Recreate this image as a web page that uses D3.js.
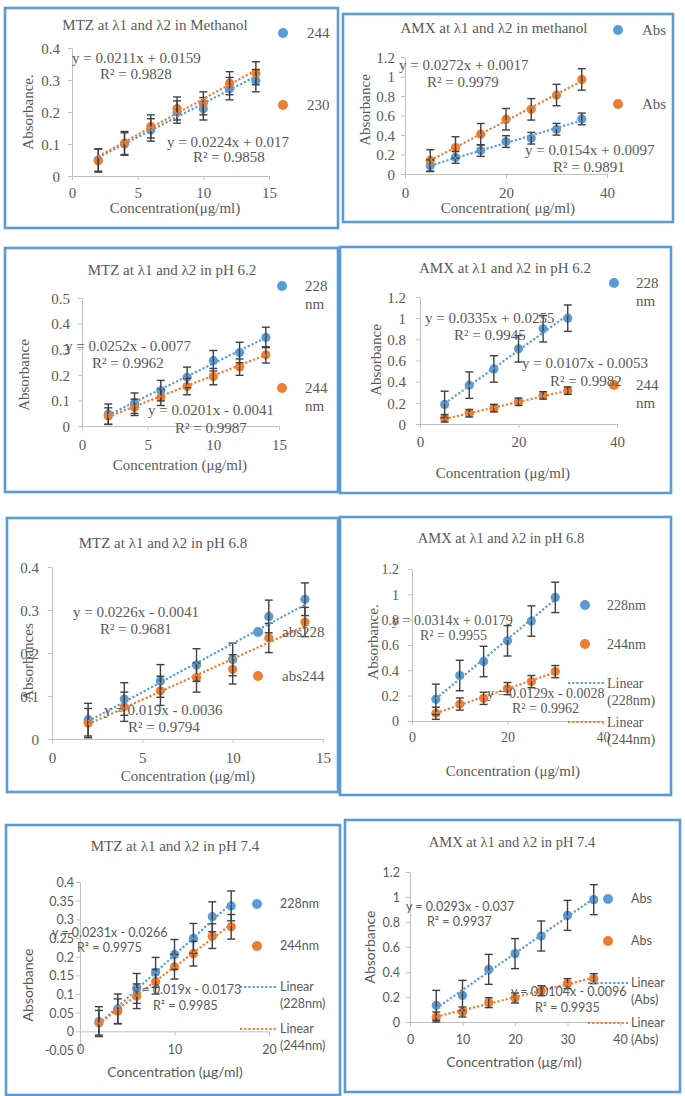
<!DOCTYPE html>
<html><head><meta charset="utf-8">
<script src="https://cdn.jsdelivr.net/npm/d3@7/dist/d3.min.js"></script>
<style>html,body{margin:0;padding:0;background:#fff;}svg{display:block;}</style>
</head><body>
<svg id="chart" width="685" height="1096"></svg>
<script>
// ---------------- DATA ----------------
// Panel 1: MTZ in methanol
const mtzMethConc = [2, 4, 6, 8, 10, 12, 14];
const mtzMeth244 = [0.05, 0.10, 0.144, 0.2, 0.21, 0.273, 0.298];
const mtzMeth230 = [0.048, 0.103, 0.155, 0.211, 0.227, 0.29, 0.321];
const mtzMethErr244 = [0.035, 0.035, 0.035, 0.035, 0.035, 0.035, 0.035];
const mtzMethErr230 = [0.036, 0.036, 0.036, 0.036, 0.036, 0.036, 0.036];
const mtzMethFit = [[0.0211, 0.0159, 0.9828], [0.0224, 0.017, 0.9858]];
// Panel 2: AMX in methanol
const amxMethConc = [5, 10, 15, 20, 25, 30, 35];
const amxMethAbsA = [0.085, 0.17, 0.241, 0.333, 0.367, 0.459, 0.565];
const amxMethAbsB = [0.139, 0.272, 0.408, 0.562, 0.663, 0.81, 0.97];
const amxMethErrA = [0.06, 0.06, 0.06, 0.06, 0.06, 0.06, 0.06];
const amxMethErrB = [0.11, 0.11, 0.11, 0.11, 0.11, 0.11, 0.11];
const amxMethFit = [[0.0154, 0.0097, 0.9891], [0.0272, 0.0017, 0.9979]];
// Panel 3: MTZ pH 6.2
const mtz62Conc = [2, 4, 6, 8, 10, 12, 14];
const mtz62_228 = [0.046, 0.089, 0.138, 0.19, 0.255, 0.287, 0.346];
const mtz62_244 = [0.039, 0.073, 0.112, 0.154, 0.193, 0.23, 0.278];
const mtz62Err228 = [0.04, 0.04, 0.04, 0.04, 0.04, 0.04, 0.04];
const mtz62Err244 = [0.032, 0.032, 0.032, 0.032, 0.032, 0.032, 0.032];
const mtz62Fit = [[0.0252, -0.0077, 0.9962], [0.0201, -0.0041, 0.9987]];
// Panel 4: AMX pH 6.2
const amx62Conc = [5, 10, 15, 20, 25, 30];
const amx62_228 = [0.185, 0.367, 0.52, 0.71, 0.9, 1.0];
const amx62_244 = [0.054, 0.102, 0.15, 0.21, 0.27, 0.315];
const amx62Err228 = [0.125, 0.125, 0.125, 0.125, 0.125, 0.125];
const amx62Err244 = [0.035, 0.035, 0.035, 0.035, 0.035, 0.035];
const amx62Fit = [[0.0335, 0.0255, 0.9945], [0.0107, -0.0053, 0.9982]];
// Panel 5: MTZ pH 6.8
const mtz68Conc = [2, 4, 6, 8, 10, 12, 14];
const mtz68_228 = [0.045, 0.093, 0.135, 0.172, 0.185, 0.285, 0.325];
const mtz68_244 = [0.037, 0.075, 0.112, 0.143, 0.162, 0.235, 0.272];
const mtz68Err228 = [0.038, 0.038, 0.038, 0.038, 0.038, 0.038, 0.038];
const mtz68Err244 = [0.034, 0.034, 0.034, 0.034, 0.034, 0.034, 0.034];
const mtz68Fit = [[0.0226, -0.0041, 0.9681], [0.019, -0.0036, 0.9794]];
// Panel 6: AMX pH 6.8
const amx68Conc = [5, 10, 15, 20, 25, 30];
const amx68_228 = [0.171, 0.359, 0.47, 0.633, 0.789, 0.976];
const amx68_244 = [0.061, 0.134, 0.179, 0.256, 0.311, 0.39];
const amx68Err228 = [0.12, 0.12, 0.12, 0.12, 0.12, 0.12];
const amx68Err244 = [0.048, 0.048, 0.048, 0.048, 0.048, 0.048];
const amx68Fit = [[0.0314, 0.0179, 0.9955], [0.0129, -0.0028, 0.9962]];
// Panel 7: MTZ pH 7.4
const mtz74Conc = [2, 4, 6, 8, 10, 12, 14, 16];
const mtz74_228 = [0.026, 0.06, 0.115, 0.158, 0.206, 0.249, 0.307, 0.336];
const mtz74_244 = [0.023, 0.054, 0.094, 0.133, 0.173, 0.208, 0.255, 0.28];
const mtz74Err228 = [0.04, 0.04, 0.04, 0.04, 0.04, 0.04, 0.04, 0.04];
const mtz74Err244 = [0.033, 0.033, 0.033, 0.033, 0.033, 0.033, 0.033, 0.033];
const mtz74Fit = [[0.0231, -0.0266, 0.9975], [0.019, -0.0173, 0.9985]];
// Panel 8: AMX pH 7.4
const amx74Conc = [5, 10, 15, 20, 25, 30, 35];
const amx74AbsA = [0.133, 0.213, 0.421, 0.547, 0.688, 0.853, 0.979];
const amx74AbsB = [0.04, 0.08, 0.155, 0.192, 0.25, 0.307, 0.347];
const amx74ErrA = [0.12, 0.12, 0.12, 0.12, 0.12, 0.12, 0.12];
const amx74ErrB = [0.04, 0.04, 0.04, 0.04, 0.04, 0.04, 0.04];
const amx74Fit = [[0.0293, -0.037, 0.9937], [0.0104, -0.0096, 0.9935]];

const titles = [
  "MTZ at λ1 and λ2 in Methanol", "AMX at λ1 and λ2 in methanol",
  "MTZ at λ1 and λ2 in pH 6.2", "AMX at λ1 and λ2 in pH 6.2",
  "MTZ at λ1 and  λ2 in pH 6.8", "AMX at λ1 and λ2 in pH 6.8",
  "MTZ at λ1 and λ2 in pH 7.4", "AMX at λ1 and λ2  in pH 7.4"
];
const yTitles = ["Absorbance.", "Absorbance", "Absorbance", "Absorbance", "Absorbances", "Absorbance.", "Absorbance", "Absorbance"];
const xTitles = ["Concentration(μg/ml)", "Concentration( μg/ml)", "Concentration (μg/ml)", "Concentration (μg/ml)",
  "Concentration (μg/ml)", "Concentration (μg/ml)", "Concentration (μg/ml)", "Concentration (μg/ml)"];
const legendNames = [
  ["244", "230"], ["Abs", "Abs"], ["228|nm", "244|nm"], ["228|nm", "244|nm"],
  ["abs228", "abs244"], ["228nm", "244nm", "Linear|(228nm)", "Linear|(244nm)"],
  ["228nm", "244nm", "Linear|(228nm)", "Linear|(244nm)"], ["Abs", "Abs", "Linear|(Abs)", "Linear|(Abs)"]
];
const xTickSets = [[0,5,10,15],[0,20,40],[0,5,10,15],[0,20,40],[0,5,10,15],[0,20,40],[0,10,20],[0,10,20,30,40]];
const yTickSets = [
  [0,0.1,0.2,0.3,0.4], [0,0.2,0.4,0.6,0.8,1,1.2], [0,0.1,0.2,0.3,0.4,0.5], [0,0.2,0.4,0.6,0.8,1,1.2],
  [0,0.1,0.2,0.3,0.4], [0,0.2,0.4,0.6,0.8,1,1.2],
  [-0.05,0,0.05,0.1,0.15,0.2,0.25,0.3,0.35,0.4], [0,0.2,0.4,0.6,0.8,1,1.2]
];

// ---------------- STYLE / LAYOUT ----------------
const BLUE = "#5b9bd5", ORANGE = "#ed7d31", BORDER = "#5b9bd5", AXIS = "#bfbfbf", TEXT = "#595959", ERR = "#404040";
const SERIF = "'Liberation Serif','Times New Roman',serif";
const SANS = "Lato,'Liberation Sans',Arial,sans-serif";

const layouts = [
  { box:[5,8,338,228], xr:[72,269], yr:[176,48], xd:[0,15], yd:[0,0.4], xLabY:193, yPad:8, font:SERIF, fs:15, tfs:15, tfont:SERIF,
    title:[155,25], yT:[28,112], xT:[175,208],
    eq:[[72,58,100,74],[167,142,193,157]],
    leg:[{k:"dot",x:283,y:33,tx:307},{k:"dot",x:283,y:105,tx:307}] },
  { box:[343,14,673,222], xr:[405,607], yr:[174,57], xd:[0,40], yd:[0,1.2], xLabY:193, yPad:6, font:SERIF, fs:15, tfs:15, tfont:SERIF,
    title:[494,28], yT:[365,110], xT:[508,208],
    eq:[[525,150,553,167],[399,65,427,82]],
    leg:[{k:"dot",x:618,y:30,tx:642},{k:"dot",x:618,y:104,tx:642}] },
  { box:[5,248,338,492], xr:[82,279], yr:[426,298], xd:[0,15], yd:[0,0.5], xLabY:445, yPad:8, font:SERIF, fs:15, tfs:15, tfont:SERIF,
    title:[172,270], yT:[24,375], xT:[180,465],
    eq:[[65,346,92,363],[148,410,175,428]],
    leg:[{k:"dot",x:282,y:286,tx:305},{k:"dot",x:282,y:388,tx:305}] },
  { box:[340,247,671,493], xr:[420,617], yr:[424,297], xd:[0,40], yd:[0,1.2], xLabY:442, yPad:10, font:SERIF, fs:15, tfs:15, tfont:SERIF,
    title:[505,268], yT:[376,360], xT:[503,473],
    eq:[[425,318,454,335],[522,363,550,381]],
    leg:[{k:"dot",x:614,y:283,tx:636},{k:"dot",x:614,y:385,tx:636}] },
  { box:[7,518,338,792], xr:[52,323], yr:[739,567], xd:[0,15], yd:[0,0.4], xLabY:758, yPad:9, font:SERIF, fs:15, tfs:15, tfont:SERIF,
    title:[163,543], yT:[28,662], xT:[188,776],
    eq:[[73,612,100,629],[104,710,128,727]],
    leg:[{k:"dot",x:258,y:632,tx:282},{k:"dot",x:258,y:676,tx:282}] },
  { box:[340,517,671,795], xr:[412,603], yr:[721,569], xd:[0,40], yd:[0,1.2], xLabY:737, yPad:9, font:SERIF, fs:14, tfs:14.5, tfont:SERIF,
    title:[501,538], yT:[373,642], xT:[513,771],
    eq:[[392,620,420,635],[487,693,512,708]],
    leg:[{k:"dot",x:585,y:605,tx:607},{k:"dot",x:585,y:644,tx:607},
         {k:"line",x:568,x2:606,y:683,tx:607,c:0},{k:"line",x:568,x2:606,y:722,tx:607,c:1}] },
  { box:[6,825,340,1095], xr:[80,269], yr:[1050,882], xd:[0,20], yd:[-0.05,0.4], xLabY:1050, xAxisAt:0, yPad:2, font:SANS, fs:12.5, tfs:15, tfont:SERIF,
    title:[175,846], yT:[28,985], xT:[175,1072],
    eq:[[52,933,77,948],[133,990,153,1006]],
    leg:[{k:"dot",x:257,y:904,tx:280},{k:"dot",x:257,y:946,tx:280},
         {k:"line",x:240,x2:277,y:987,tx:280,c:0},{k:"line",x:240,x2:277,y:1029,tx:280,c:1}] },
  { box:[345,820,680,1092], xr:[410,620], yr:[1022,872], xd:[0,40], yd:[0,1.2], xLabY:1040, yPad:6, font:SANS, fs:12.5, tfs:14.5, tfont:SERIF,
    title:[512,842], yT:[370,947], xT:[514,1062],
    eq:[[406,907,427,922],[511,992,535,1008]],
    leg:[{k:"dot",x:608,y:899,tx:631},{k:"dot",x:608,y:941,tx:631},
         {k:"line",x:588,x2:630,y:983,tx:631,c:0},{k:"line",x:588,x2:630,y:1023,tx:631,c:1}] }
];

const seriesSets = [
  [[mtzMethConc, mtzMeth244, mtzMethErr244], [mtzMethConc, mtzMeth230, mtzMethErr230]],
  [[amxMethConc, amxMethAbsA, amxMethErrA], [amxMethConc, amxMethAbsB, amxMethErrB]],
  [[mtz62Conc, mtz62_228, mtz62Err228], [mtz62Conc, mtz62_244, mtz62Err244]],
  [[amx62Conc, amx62_228, amx62Err228], [amx62Conc, amx62_244, amx62Err244]],
  [[mtz68Conc, mtz68_228, mtz68Err228], [mtz68Conc, mtz68_244, mtz68Err244]],
  [[amx68Conc, amx68_228, amx68Err228], [amx68Conc, amx68_244, amx68Err244]],
  [[mtz74Conc, mtz74_228, mtz74Err228], [mtz74Conc, mtz74_244, mtz74Err244]],
  [[amx74Conc, amx74AbsA, amx74ErrA], [amx74Conc, amx74AbsB, amx74ErrB]]
];
const fits = [mtzMethFit, amxMethFit, mtz62Fit, amx62Fit, mtz68Fit, amx68Fit, mtz74Fit, amx74Fit];
const COLORS = [BLUE, ORANGE];

// ---------------- DRAW ----------------
const svg = d3.select("#chart");
svg.append("rect").attr("width", 685).attr("height", 1096).attr("fill", "#fff");

const fmtTick = d => String(+d.toFixed(2));
const eqText = (m, b) => `y = ${m}x ${b < 0 ? "-" : "+"} ${Math.abs(b)}`;

function txt(g, s, x, y, o) {
  const t = g.append("text").attr("x", x).attr("y", y).attr("dy", "0.35em")
    .attr("fill", TEXT).attr("font-family", o.font).attr("font-size", o.fs)
    .attr("text-anchor", o.anchor || "start").text(s);
  if (o.rotate) t.attr("transform", `rotate(-90,${x},${y})`);
  return t;
}

layouts.forEach((L, i) => {
  const g = svg.append("g");
  g.append("rect").attr("x", L.box[0]).attr("y", L.box[1])
    .attr("width", L.box[2] - L.box[0]).attr("height", L.box[3] - L.box[1])
    .attr("fill", "#fff").attr("stroke", BORDER).attr("stroke-width", 2.6);

  const x = d3.scaleLinear().domain(L.xd).range(L.xr);
  const y = d3.scaleLinear().domain(L.yd).range(L.yr);

  // Y axis
  const ya = g.append("g").attr("transform", `translate(${L.xr[0]},0)`)
    .call(d3.axisLeft(y).tickValues(yTickSets[i]).tickFormat(fmtTick).tickSize(4).tickSizeOuter(0).tickPadding(L.yPad));
  // X axis
  const xAt = L.xAxisAt !== undefined ? y(L.xAxisAt) : L.yr[0];
  const xa = g.append("g").attr("transform", `translate(0,${xAt})`)
    .call(d3.axisBottom(x).tickValues(xTickSets[i]).tickFormat(fmtTick).tickSize(4).tickSizeOuter(0));
  [ya, xa].forEach(a => {
    a.selectAll("path,line").attr("stroke", AXIS).attr("stroke-width", 1);
    a.selectAll("text").attr("fill", TEXT).attr("font-family", L.font).attr("font-size", L.fs);
  });
  xa.selectAll("text").attr("y", L.xLabY - xAt).attr("dy", "0.35em");
  ya.selectAll("text").attr("dy", "0.35em");

  const sets = seriesSets[i];
  // markers and error bars
  sets.forEach((s, si) => {
    const pts = s[0].map((cx, k) => ({ cx, v: s[1][k], e: s[2][k] }));
    const sg = g.append("g");
    sg.selectAll("circle").data(pts).join("circle")
      .attr("cx", d => x(d.cx)).attr("cy", d => y(d.v)).attr("r", 4.6).attr("fill", COLORS[si]);
  });
  sets.forEach((s, si) => {
    const pts = s[0].map((cx, k) => ({ cx, v: s[1][k], e: s[2][k] }));
    const eg = g.append("g").attr("stroke", ERR).attr("stroke-width", 1.4);
    eg.selectAll("line.v").data(pts).join("line").attr("class", "v")
      .attr("x1", d => x(d.cx)).attr("x2", d => x(d.cx))
      .attr("y1", d => y(d.v - d.e)).attr("y2", d => y(d.v + d.e));
    eg.selectAll("line.t").data(pts).join("line").attr("class", "t")
      .attr("x1", d => x(d.cx) - 4).attr("x2", d => x(d.cx) + 4)
      .attr("y1", d => y(d.v + d.e)).attr("y2", d => y(d.v + d.e));
    eg.selectAll("line.b").data(pts).join("line").attr("class", "b")
      .attr("x1", d => x(d.cx) - 4).attr("x2", d => x(d.cx) + 4)
      .attr("y1", d => y(d.v - d.e)).attr("y2", d => y(d.v - d.e));
  });
  // trend lines
  sets.forEach((s, si) => {
    const [m, b] = fits[i][si];
    const xs = d3.extent(s[0]);
    g.append("line")
      .attr("x1", x(xs[0])).attr("y1", y(m * xs[0] + b))
      .attr("x2", x(xs[1])).attr("y2", y(m * xs[1] + b))
      .attr("stroke", COLORS[si]).attr("stroke-width", 2.2).attr("stroke-dasharray", "2.2,2");
  });

  // legend
  L.leg.forEach((it, li) => {
    const lines = legendNames[i][li].split("|");
    if (it.k === "dot") {
      g.append("circle").attr("cx", it.x).attr("cy", it.y).attr("r", 5).attr("fill", COLORS[li]);
    } else {
      g.append("line").attr("x1", it.x).attr("x2", it.x2).attr("y1", it.y).attr("y2", it.y)
        .attr("stroke", COLORS[it.c]).attr("stroke-width", 2.2).attr("stroke-dasharray", "2.2,2");
    }
    const lh = L.font === SANS ? 16.5 : 17.5;
    lines.forEach((ln, k) => txt(g, ln, it.tx, it.y + k * lh, { font: L.font, fs: L.fs }));
  });

  // equations
  sets.forEach((s, si) => {
    const [m, b, r2] = fits[i][si];
    const p = L.eq[si];
    txt(g, eqText(m, b), p[0], p[1], { font: L.font, fs: L.fs });
    txt(g, `R² = ${r2}`, p[2], p[3], { font: L.font, fs: L.fs });
  });

  // titles
  txt(g, titles[i], L.title[0], L.title[1], { font: L.tfont, fs: L.tfs, anchor: "middle" });
  txt(g, xTitles[i], L.xT[0], L.xT[1], { font: L.font, fs: L.font === SANS ? 14 : 15, anchor: "middle" });
  txt(g, yTitles[i], L.yT[0], L.yT[1], { font: L.font, fs: L.font === SANS ? 14 : 15, anchor: "middle", rotate: true });
});
</script>
</body></html>
